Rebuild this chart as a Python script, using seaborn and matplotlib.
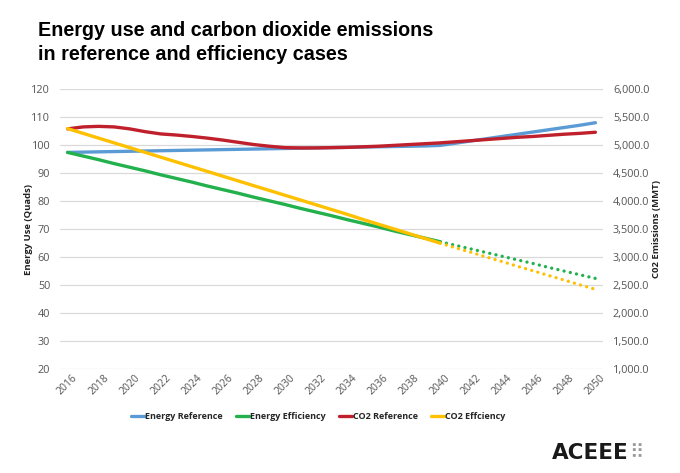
import matplotlib
matplotlib.use("Agg")
import matplotlib.pyplot as plt
import seaborn as sns

# data
years = list(range(2016, 2041))
years_proj = list(range(2040, 2051))
years_all = list(range(2016, 2051))

energy_reference = [97.5, 97.6, 97.7, 97.8, 97.9, 98.0, 98.1, 98.2, 98.3, 98.4,
                    98.5, 98.6, 98.7, 98.8, 98.9, 99.0, 99.1, 99.2, 99.3, 99.4,
                    99.5, 99.6, 99.7, 99.8, 100.0, 100.8, 101.6, 102.4, 103.2, 104.0,
                    104.8, 105.6, 106.4, 107.2, 108.1]
energy_efficiency = [97.5, 96.2, 94.9, 93.5, 92.2, 90.9, 89.5, 88.2, 86.9, 85.5,
                     84.2, 82.9, 81.5, 80.2, 78.9, 77.5, 76.2, 74.9, 73.5, 72.2,
                     70.9, 69.5, 68.2, 66.9, 65.6]
energy_efficiency_proj = [65.6, 64.3, 63.0, 61.7, 60.4, 59.1, 57.8, 56.4, 55.1, 53.8, 52.5]
co2_reference = [5295, 5330, 5340, 5330, 5295, 5245, 5205, 5185, 5160, 5130,
                 5095, 5055, 5015, 4985, 4960, 4955, 4955, 4960, 4965, 4975,
                 4985, 5000, 5015, 5030, 5045, 5065, 5085, 5105, 5125, 5145,
                 5160, 5180, 5200, 5215, 5235]
co2_efficiency = [5300, 5215, 5130, 5045, 4960, 4875, 4790, 4705, 4620, 4535,
                  4450, 4365, 4280, 4195, 4110, 4025, 3940, 3855, 3770, 3680,
                  3595, 3510, 3425, 3340, 3255]
co2_efficiency_proj = [3255, 3170, 3090, 3005, 2925, 2840, 2760, 2675, 2595, 2510, 2430]

blue, green, red, yellow = "#5b9bd5", "#22b14c", "#c0202b", "#ffc000"

sns.set_style("white")
plt.rcParams['font.family'] = ['Open Sans', 'DejaVu Sans']

fig = plt.figure(figsize=(6.8, 4.73), dpi=100)
ax = fig.add_axes([0.088, 0.219, 0.799, 0.592])
ax2 = ax.twinx()

lw = 2.4
dots = (0, (0.01, 1.9))

sns.lineplot(x=years_all, y=energy_reference, ax=ax, color=blue, lw=lw,
             label="Energy Reference", legend=False)
sns.lineplot(x=years, y=energy_efficiency, ax=ax, color=green, lw=lw,
             label="Energy Efficiency", legend=False)
l = sns.lineplot(x=years_proj, y=energy_efficiency_proj, ax=ax, color=green, lw=lw, legend=False)
l.lines[-1].set_linestyle(dots)
l.lines[-1].set_dash_capstyle("round")

sns.lineplot(x=years_all, y=co2_reference, ax=ax2, color=red, lw=lw,
             label="CO2 Reference", legend=False)
sns.lineplot(x=years, y=co2_efficiency, ax=ax2, color=yellow, lw=lw,
             label="CO2 Effciency", legend=False)
l2 = sns.lineplot(x=years_proj, y=co2_efficiency_proj, ax=ax2, color=yellow, lw=lw, legend=False)
l2.lines[-1].set_linestyle(dots)
l2.lines[-1].set_dash_capstyle("round")

ax.set_xlim(2015.5, 2050.5)
ax.set_ylim(20, 120)
ax2.set_ylim(1000, 6000)
ax.set_yticks(range(20, 121, 10))
ax2.set_yticks(range(1000, 6001, 500))
ax2.set_yticklabels([f"{v:,.1f}" for v in range(1000, 6001, 500)])
ax.set_xticks(range(2016, 2051, 2))
ax.set_xticklabels([str(y) for y in range(2016, 2051, 2)], rotation=45)

ax.grid(axis="y", color="#d9d9d9", lw=0.9)
ax.set_axisbelow(True)
for a in (ax, ax2):
    for s in a.spines.values():
        s.set_visible(False)
    a.tick_params(length=0, labelsize=7.8, labelcolor="#555555")
ax.tick_params(axis="y", pad=7)
ax2.tick_params(axis="y", pad=7)
ax.tick_params(axis="x", pad=2, labelsize=7.5)

ax.set_xlabel("")
ax.set_ylabel("Energy Use (Quads)", fontsize=6.8, fontweight="bold", color="#222222", labelpad=-1)
ax2.set_ylabel("C02 Emissions (MMT)", fontsize=6.8, fontweight="bold", color="#222222", labelpad=2)

h1, lab1 = ax.get_legend_handles_labels()
h2, lab2 = ax2.get_legend_handles_labels()
fig.legend(h1 + h2, lab1 + lab2, loc="center", bbox_to_anchor=(0.468, 0.119), ncol=4,
           frameon=False, handlelength=1.5, handletextpad=0.1, columnspacing=1.4,
           prop={"size": 6.5, "weight": "bold"})

fig.text(0.056, 0.955, "Energy use and carbon dioxide emissions\nin reference and efficiency cases",
         family="Liberation Sans", fontsize=14.2, fontweight="bold", va="top",
         linespacing=1.3, color="black")

fig.text(0.924, 0.042, "ACEEE", family="DejaVu Sans", fontsize=15.5, fontweight="bold",
         ha="right", va="center", color="#1a1a1a")
fig.text(0.925, 0.042, "\u283f", family="DejaVu Sans", fontsize=14, ha="left", va="center",
         color="#9a9a9a")

fig.savefig("out.png", dpi=100)
